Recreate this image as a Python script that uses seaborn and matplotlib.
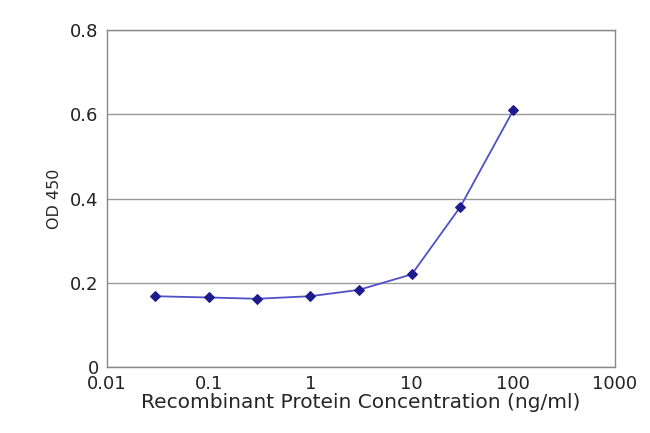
import matplotlib
matplotlib.use("Agg")
import matplotlib.pyplot as plt
import seaborn as sns
import pandas as pd

concentration = [0.03, 0.1, 0.3, 1, 3, 10, 30, 100]
od450 = [0.168, 0.165, 0.162, 0.168, 0.183, 0.220, 0.380, 0.610]
x_ticks = [0.01, 0.1, 1, 10, 100, 1000]
x_tick_labels = ["0.01", "0.1", "1", "10", "100", "1000"]
y_ticks = [0, 0.2, 0.4, 0.6, 0.8]

sns.set_style("white")
plt.rcParams["font.family"] = ["DejaVu Sans"]

df = pd.DataFrame({"conc": concentration, "od": od450})

fig = plt.figure(figsize=(6.5, 4.33), dpi=100)
ax = fig.add_axes([107 / 650, 1 - 367 / 433, (615 - 107) / 650, (367 - 30) / 433])
sns.lineplot(data=df, x="conc", y="od", ax=ax, color="#5050c8", linewidth=1.3,
             marker="D", markersize=5, markerfacecolor="#1c1c8c",
             markeredgecolor="#1c1c8c")
ax.set_xscale("log")
ax.set_xlim(0.01, 1000)
ax.set_ylim(0, 0.8)
ax.set_xticks(x_ticks)
ax.set_xticklabels(x_tick_labels)
ax.set_yticks(y_ticks)
ax.set_yticklabels(["0", "0.2", "0.4", "0.6", "0.8"])
ax.minorticks_off()
ax.yaxis.grid(True, color="#999999", linewidth=1)
ax.set_axisbelow(True)
for s in ax.spines.values():
    s.set_color("#888888")
    s.set_linewidth(1)
ax.tick_params(labelsize=13, colors="#222222", length=0, pad=6)
ax.set_xlabel("Recombinant Protein Concentration (ng/ml)", fontsize=14.5, labelpad=0)
ax.set_ylabel("OD 450", fontsize=11.5, labelpad=6)
fig.savefig("out.png", dpi=100, facecolor="white")
